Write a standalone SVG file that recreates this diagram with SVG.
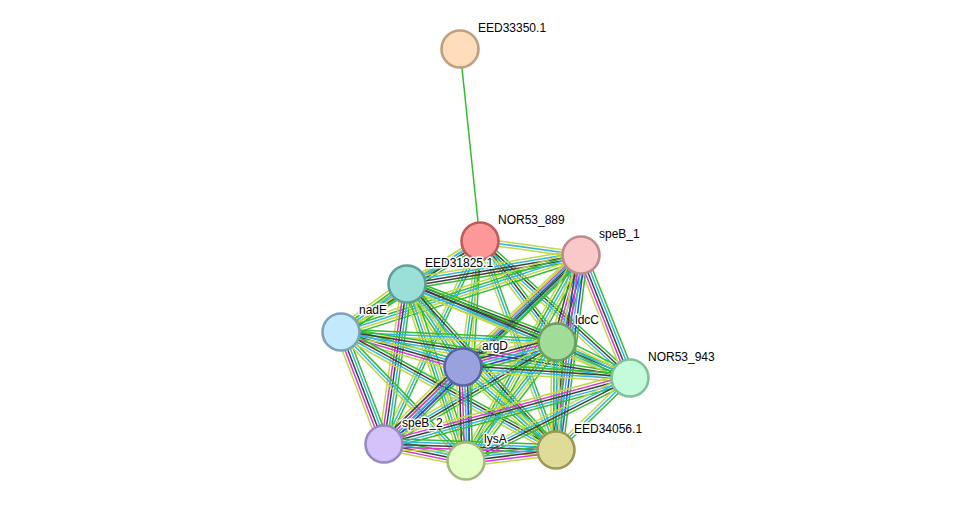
<svg xmlns="http://www.w3.org/2000/svg" xmlns:xlink="http://www.w3.org/1999/xlink" width="975" height="506" viewBox="0 0 975 506">
<style>
line{stroke-width:1.5;fill:none}
.g{stroke:#33bb33}.k{stroke:#404040}.c{stroke:#30b6de}.m{stroke:#d636d6}.y{stroke:#c3d645}.b{stroke:#3a3aee}
.n{stroke-width:2.6}
text{font-family:"Liberation Sans",Arial,sans-serif;font-size:12px;fill:#000;stroke:#fff;stroke-width:3px;stroke-linejoin:round;paint-order:stroke}
</style>
<defs>
<g id="pA"><line class="g" x1="0" x2="1" y1="-5.4" y2="-5.4"/><line class="c" x1="0" x2="1" y1="-2.7" y2="-2.7"/><line class="k" x1="0" x2="1" y1="0" y2="0"/><line class="m" x1="0" x2="1" y1="2.7" y2="2.7"/><line class="y" x1="0" x2="1" y1="5.4" y2="5.4"/></g>
<g id="pG"><line class="g" x1="0" x2="1" y1="-5.4" y2="-5.4"/><line class="y" x1="0" x2="1" y1="-2.7" y2="-2.7"/><line class="c" x1="0" x2="1" y1="0" y2="0"/><line class="g" x1="0" x2="1" y1="2.7" y2="2.7"/><line class="y" x1="0" x2="1" y1="5.4" y2="5.4"/></g>
<g id="pB"><line class="g" x1="0" x2="1" y1="-2.7" y2="-2.7"/><line class="c" x1="0" x2="1" y1="0" y2="0"/><line class="y" x1="0" x2="1" y1="2.7" y2="2.7"/></g>
<g id="pC"><line class="g" x1="0" x2="1" y1="-4" y2="-4"/><line class="k" x1="0" x2="1" y1="-1.3" y2="-1.3"/><line class="c" x1="0" x2="1" y1="1.3" y2="1.3"/><line class="y" x1="0" x2="1" y1="4" y2="4"/></g>
<g id="pD"><line class="y" x1="0" x2="1" y1="-2.7" y2="-2.7"/><line class="c" x1="0" x2="1" y1="0" y2="0"/><line class="y" x1="0" x2="1" y1="2.7" y2="2.7"/></g>
<g id="pE"><line class="g" x1="0" x2="1" y1="-1.3" y2="-1.3"/><line class="y" x1="0" x2="1" y1="1.3" y2="1.3"/></g>
<g id="pF"><line class="g" x1="0" x2="1" y1="-6.7" y2="-6.7"/><line class="b" x1="0" x2="1" y1="-4" y2="-4"/><line class="c" x1="0" x2="1" y1="-1.3" y2="-1.3"/><line class="m" x1="0" x2="1" y1="1.3" y2="1.3"/><line class="k" x1="0" x2="1" y1="4" y2="4"/><line class="y" x1="0" x2="1" y1="6.7" y2="6.7"/></g>
<g id="pK"><line class="g" x1="0" x2="1" y1="-5.4" y2="-5.4"/><line class="k" x1="0" x2="1" y1="-2.7" y2="-2.7"/><line class="k" x1="0" x2="1" y1="0" y2="0"/><line class="c" x1="0" x2="1" y1="2.7" y2="2.7"/><line class="y" x1="0" x2="1" y1="5.4" y2="5.4"/></g>
</defs>
<rect width="975" height="506" fill="#fff"/>
<g id="connectors">
<line class="g" x1="460" y1="49" x2="480" y2="241"/>
<use href="#pD" transform="translate(480 241) rotate(7.89) scale(101.97 1)"/>
<use href="#pB" transform="translate(480 241) rotate(149.5) scale(84.72 1)"/>
<use href="#pC" transform="translate(480 241) rotate(146.79) scale(166.14 1)"/>
<use href="#pC" transform="translate(480 241) rotate(52.68) scale(127 1)"/>
<use href="#pB" transform="translate(480 241) rotate(97.68) scale(127.14 1)"/>
<use href="#pC" transform="translate(480 241) rotate(42.41) scale(203.15 1)"/>
<use href="#pB" transform="translate(480 241) rotate(115.31) scale(224.56 1)"/>
<use href="#pE" transform="translate(480 241) rotate(93.64) scale(220.45 1)"/>
<use href="#pB" transform="translate(480 241) rotate(70.02) scale(222.39 1)"/>
<use href="#pK" transform="translate(581 255) rotate(170.54) scale(176.4 1)"/>
<use href="#pG" transform="translate(581 255) rotate(162.21) scale(252.05 1)"/>
<use href="#pF" transform="translate(581 255) rotate(105.42) scale(90.25 1)"/>
<use href="#pA" transform="translate(581 255) rotate(136.5) scale(162.69 1)"/>
<use href="#pA" transform="translate(581 255) rotate(68.28) scale(132.4 1)"/>
<use href="#pC" transform="translate(581 255) rotate(136.19) scale(273 1)"/>
<use href="#pG" transform="translate(581 255) rotate(119.17) scale(235.93 1)"/>
<use href="#pF" transform="translate(581 255) rotate(97.31) scale(196.6 1)"/>
<use href="#pG" transform="translate(407 284) rotate(143.97) scale(81.61 1)"/>
<use href="#pK" transform="translate(407 284) rotate(21.14) scale(160.82 1)"/>
<use href="#pG" transform="translate(407 284) rotate(55.99) scale(100.12 1)"/>
<use href="#pC" transform="translate(407 284) rotate(22.86) scale(242 1)"/>
<use href="#pA" transform="translate(407 284) rotate(98.18) scale(161.64 1)"/>
<use href="#pG" transform="translate(407 284) rotate(71.57) scale(186.57 1)"/>
<use href="#pC" transform="translate(407 284) rotate(48.09) scale(223.06 1)"/>
<use href="#pB" transform="translate(341 332) rotate(2.65) scale(216.23 1)"/>
<use href="#pA" transform="translate(341 332) rotate(16.01) scale(126.92 1)"/>
<use href="#pC" transform="translate(341 332) rotate(9.04) scale(292.64 1)"/>
<use href="#pA" transform="translate(341 332) rotate(69) scale(119.97 1)"/>
<use href="#pB" transform="translate(341 332) rotate(45.9) scale(179.63 1)"/>
<use href="#pC" transform="translate(341 332) rotate(28.76) scale(245.25 1)"/>
<use href="#pF" transform="translate(557 342) rotate(165.11) scale(97.27 1)"/>
<use href="#pG" transform="translate(557 342) rotate(26.25) scale(81.39 1)"/>
<use href="#pC" transform="translate(557 342) rotate(149.48) scale(200.83 1)"/>
<use href="#pG" transform="translate(557 342) rotate(127.4) scale(149.81 1)"/>
<use href="#pG" transform="translate(557 342) rotate(90.53) scale(108 1)"/>
<use href="#pC" transform="translate(463 367) rotate(3.77) scale(167.36 1)"/>
<use href="#pF" transform="translate(463 367) rotate(135.73) scale(110.32 1)"/>
<use href="#pF" transform="translate(463 367) rotate(88.17) scale(94.05 1)"/>
<use href="#pG" transform="translate(463 367) rotate(41.75) scale(124.65 1)"/>
<use href="#pA" transform="translate(630 378) rotate(164.98) scale(254.7 1)"/>
<use href="#pC" transform="translate(630 378) rotate(153.16) scale(183.81 1)"/>
<use href="#pB" transform="translate(630 378) rotate(135.78) scale(103.25 1)"/>
<use href="#pA" transform="translate(384 444) rotate(11.71) scale(83.74 1)"/>
<use href="#pA" transform="translate(384 444) rotate(2) scale(172.1 1)"/>
<use href="#pA" transform="translate(466 461) rotate(-6.97) scale(90.67 1)"/>
</g>
<g id="EED33350.1"><circle class="n" cx="460" cy="49" r="18.5" fill="#fedcbc" stroke="#bf9f80"/><text x="478" y="32">EED33350.1</text></g>
<g id="NOR53_889"><circle class="n" cx="480" cy="241" r="18.5" fill="#fc9898" stroke="#c25a5a"/><text x="498" y="224">NOR53_889</text></g>
<g id="speB_1"><circle class="n" cx="581" cy="255" r="18.5" fill="#f9c8c8" stroke="#bf8a8a"/><text x="599" y="238">speB_1</text></g>
<g id="EED31825.1"><circle class="n" cx="407" cy="284" r="18.5" fill="#9adfd8" stroke="#5e9f99"/><text x="425" y="267">EED31825.1</text></g>
<g id="nadE"><circle class="n" cx="341" cy="332" r="18.5" fill="#c3e9fc" stroke="#7ea2ba"/><text x="359" y="314">nadE</text></g>
<g id="ldcC"><circle class="n" cx="557" cy="342" r="18.5" fill="#a1dd99" stroke="#6a9e62"/><text x="575" y="324">ldcC</text></g>
<g id="argD"><circle class="n" cx="463" cy="367" r="18.5" fill="#99a2df" stroke="#5b62a0"/><text x="482" y="350">argD</text></g>
<g id="NOR53_943"><circle class="n" cx="630" cy="378" r="18.5" fill="#c4fbda" stroke="#80c09b"/><text x="648" y="361">NOR53_943</text></g>
<g id="speB_2"><circle class="n" cx="384" cy="444" r="18.5" fill="#d4c3fb" stroke="#9a88c2"/><text x="402" y="427">speB_2</text></g>
<g id="lysA"><circle class="n" cx="466" cy="461" r="18.5" fill="#e3ffc5" stroke="#a2ba82"/><text x="484" y="443">lysA</text></g>
<g id="EED34056.1"><circle class="n" cx="556" cy="450" r="18.5" fill="#dfdb99" stroke="#9b9852"/><text x="574" y="433">EED34056.1</text></g>
</svg>
